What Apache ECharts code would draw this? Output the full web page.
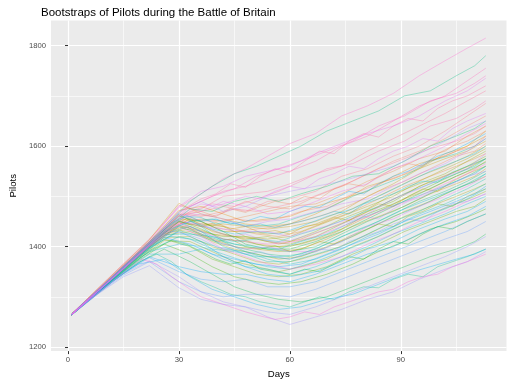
<!DOCTYPE html>
<html><head><meta charset="utf-8">
<script src="https://cdn.jsdelivr.net/npm/echarts@6/dist/echarts.min.js"></script>
<style>html,body{margin:0;padding:0;background:#fff}#c{width:512px;height:384px}</style>
</head><body><div id="c"></div>
<script>
const days  = [1, 8, 15, 22, 30, 36, 42, 48, 54, 60, 67, 74, 81, 88, 95, 102, 108, 113];
const days2 = [1, 5, 12, 19, 26, 33, 39, 45, 51, 57, 63, 70, 77, 84, 91, 98, 105, 110, 113];
const days3 = [1, 4, 8, 12, 16, 20, 24, 28, 32, 36, 40, 44, 48, 52, 56, 60, 64, 68, 72, 76, 80, 84, 88, 92, 96, 100, 104, 108, 113];
const xTicks = [0, 30, 60, 90];
const xMinor = [15, 45, 75, 105];
const yTicks = [1200, 1400, 1600, 1800];
const yMinor = [1300, 1500, 1700];

const b01 = [1266,1316,1366,1415,1478,1505,1535,1555,1580,1605,1625,1660,1680,1705,1740,1770,1795,1815];
const b02 = [1266,1314,1362,1410,1470,1490,1510,1520,1535,1550,1570,1600,1620,1650,1680,1700,1730,1755];
const b03 = [1265,1312,1360,1407,1462,1475,1500,1505,1510,1525,1545,1560,1590,1615,1640,1665,1690,1710];
const b04 = [1266,1315,1364,1413,1482,1470,1480,1470,1490,1495,1510,1540,1555,1580,1600,1630,1660,1685];
const b05 = [1265,1313,1361,1408,1465,1460,1470,1490,1480,1475,1500,1520,1545,1570,1590,1615,1640,1660];
const b06 = [1264,1309,1354,1400,1445,1455,1450,1460,1470,1480,1485,1505,1530,1550,1575,1590,1620,1640];
const b07 = [1265,1313,1362,1410,1472,1480,1465,1450,1455,1460,1480,1495,1510,1540,1565,1580,1600,1630];
const b08 = [1266,1316,1365,1414,1486,1465,1455,1445,1440,1445,1465,1490,1520,1535,1555,1585,1600,1620];
const b09 = [1265,1310,1357,1402,1450,1440,1445,1440,1435,1440,1450,1470,1500,1525,1555,1575,1590,1610];
const b10 = [1264,1311,1356,1403,1455,1450,1430,1430,1425,1430,1445,1465,1490,1515,1540,1560,1580,1600];
const b11 = [1265,1312,1359,1407,1462,1445,1440,1420,1415,1420,1440,1460,1480,1500,1530,1555,1575,1595];
const b12 = [1266,1312,1358,1404,1450,1440,1425,1415,1420,1410,1430,1455,1475,1505,1525,1545,1570,1590];
const b13 = [1265,1310,1355,1400,1442,1430,1420,1420,1410,1405,1420,1445,1470,1490,1520,1540,1560,1580];
const b14 = [1264,1311,1357,1403,1452,1435,1415,1410,1400,1400,1415,1435,1465,1485,1510,1535,1555,1575];
const b15 = [1265,1313,1360,1406,1460,1450,1430,1405,1395,1395,1410,1430,1455,1480,1505,1530,1550,1568];
const b16 = [1266,1310,1354,1398,1440,1425,1410,1400,1395,1390,1400,1425,1450,1470,1495,1520,1540,1560];
const b17 = [1265,1309,1352,1396,1432,1420,1405,1395,1385,1380,1395,1420,1440,1465,1490,1510,1530,1550];
const b18 = [1264,1308,1350,1392,1420,1410,1395,1390,1380,1375,1390,1410,1435,1460,1480,1505,1525,1545];
const b19 = [1265,1311,1357,1403,1450,1430,1400,1385,1370,1370,1385,1400,1425,1450,1470,1495,1515,1535];
const b20 = [1266,1313,1360,1408,1465,1440,1410,1390,1375,1365,1375,1395,1420,1440,1465,1485,1505,1525];
const b21 = [1265,1309,1351,1390,1405,1400,1385,1370,1360,1355,1370,1390,1410,1435,1455,1475,1495,1515];
const b22 = [1264,1308,1349,1385,1385,1395,1375,1360,1355,1345,1360,1380,1400,1425,1445,1465,1485,1500];
const b23 = [1265,1310,1355,1398,1430,1410,1380,1360,1345,1340,1350,1370,1395,1410,1435,1455,1470,1490];
const b24 = [1265,1308,1348,1380,1360,1350,1345,1345,1335,1330,1345,1365,1385,1400,1425,1445,1460,1480];
const b25 = [1264,1307,1347,1378,1350,1335,1330,1335,1320,1320,1330,1350,1370,1390,1410,1430,1450,1465];
const b26 = [1265,1306,1343,1370,1330,1310,1300,1305,1305,1300,1315,1335,1355,1375,1395,1415,1430,1450];
const b27 = [1264,1305,1340,1362,1318,1295,1285,1280,1270,1265,1280,1300,1320,1340,1360,1380,1400,1420];
const b28 = [1265,1307,1346,1372,1340,1310,1290,1280,1260,1245,1260,1275,1295,1310,1335,1355,1370,1390];
const b29 = [1266,1313,1359,1406,1468,1490,1470,1480,1500,1510,1520,1530,1545,1560,1585,1610,1635,1650];
const b30 = [1265,1311,1357,1404,1455,1465,1455,1440,1450,1455,1470,1485,1495,1520,1545,1565,1590,1615];
const b31 = [1265,1311,1357,1403,1452,1440,1435,1430,1430,1420,1435,1450,1465,1495,1515,1540,1555,1585];
const b32 = [1265,1310,1356,1402,1445,1425,1405,1395,1400,1390,1390,1410,1440,1455,1480,1500,1520,1540];
const b33 = [1265,1314,1362,1410,1480,1510,1520,1540,1550,1560,1585,1605,1625,1640,1660,1690,1710,1735];
const b34 = [1265,1311,1357,1404,1460,1470,1490,1480,1465,1470,1490,1510,1525,1555,1575,1600,1625,1645];
const b35 = [1264,1310,1355,1400,1440,1420,1395,1380,1365,1355,1365,1380,1405,1425,1450,1470,1490,1505];
const b36 = [1265,1311,1356,1402,1448,1430,1415,1410,1405,1408,1420,1440,1460,1480,1500,1525,1545,1565];

const c01 = [1265,1292,1340,1388,1436,1480,1500,1515,1540,1555,1570,1590,1610,1640,1660,1690,1705,1725,1740];
const c02 = [1266,1292,1339,1386,1433,1470,1485,1480,1495,1510,1530,1555,1565,1590,1610,1640,1655,1675,1690];
const c03 = [1265,1291,1337,1384,1430,1465,1460,1475,1470,1480,1490,1510,1530,1555,1575,1595,1610,1625,1640];
const c04 = [1264,1290,1336,1382,1427,1455,1450,1455,1450,1455,1470,1480,1505,1525,1545,1570,1590,1600,1620];
const c05 = [1265,1291,1338,1384,1430,1460,1440,1430,1435,1440,1450,1465,1485,1510,1530,1555,1580,1590,1605];
const c06 = [1265,1291,1337,1383,1428,1445,1445,1435,1425,1420,1430,1450,1470,1495,1520,1540,1560,1575,1585];
const c07 = [1266,1292,1338,1384,1429,1455,1430,1420,1415,1405,1415,1435,1455,1480,1505,1530,1550,1565,1575];
const c08 = [1265,1290,1336,1381,1425,1440,1425,1420,1405,1400,1405,1420,1445,1470,1495,1515,1540,1555,1570];
const c09 = [1264,1290,1335,1380,1423,1430,1415,1400,1395,1390,1395,1415,1440,1460,1480,1505,1525,1540,1555];
const c10 = [1265,1291,1337,1382,1426,1435,1410,1395,1385,1375,1380,1400,1420,1445,1470,1490,1515,1530,1540];
const c11 = [1265,1290,1335,1378,1418,1420,1400,1385,1370,1365,1375,1390,1410,1435,1460,1480,1500,1515,1525];
const c12 = [1264,1289,1333,1375,1412,1410,1390,1370,1360,1350,1360,1375,1400,1420,1445,1465,1485,1500,1510];
const c13 = [1265,1290,1334,1377,1415,1400,1375,1360,1345,1340,1345,1360,1385,1405,1430,1450,1470,1480,1495];
const c14 = [1265,1289,1332,1372,1405,1385,1360,1340,1330,1325,1330,1345,1365,1390,1410,1435,1450,1465,1475];
const c15 = [1264,1288,1330,1368,1395,1370,1345,1320,1305,1295,1290,1300,1320,1340,1360,1380,1395,1410,1425];
const c16 = [1265,1292,1339,1385,1433,1475,1470,1490,1500,1490,1505,1520,1540,1545,1570,1600,1620,1635,1650];
const c17 = [1266,1293,1341,1389,1438,1490,1520,1545,1560,1580,1600,1630,1650,1670,1700,1710,1740,1760,1780];
const c18 = [1265,1291,1337,1383,1428,1450,1455,1445,1440,1445,1460,1475,1500,1520,1540,1570,1585,1600,1615];
const c19 = [1265,1290,1336,1381,1424,1425,1420,1410,1415,1410,1425,1440,1460,1480,1505,1525,1545,1560,1575];
const c20 = [1264,1290,1335,1380,1422,1415,1395,1390,1380,1380,1385,1405,1430,1450,1475,1495,1515,1530,1545];
const c21 = [1265,1291,1336,1382,1426,1440,1420,1405,1400,1395,1410,1425,1450,1470,1490,1510,1530,1545,1560];
const c22 = [1265,1291,1338,1384,1430,1450,1435,1425,1430,1425,1440,1460,1475,1500,1525,1550,1570,1585,1600];
const c23 = [1265,1289,1331,1365,1375,1340,1315,1300,1285,1275,1280,1295,1305,1325,1345,1360,1375,1385,1395];
const c24 = [1264,1290,1334,1378,1418,1405,1385,1375,1365,1360,1365,1385,1405,1425,1450,1470,1490,1505,1520];

const d01 = [1266,1287,1314,1341,1368,1396,1423,1452,1478,1495,1505,1525,1518,1540,1555,1548,1570,1590,1585,1610,1625,1618,1640,1655,1650,1675,1690,1700,1720];
const d02 = [1265,1286,1312,1339,1365,1392,1418,1445,1465,1470,1460,1475,1468,1480,1490,1485,1500,1495,1515,1525,1520,1540,1555,1565,1560,1585,1600,1610,1630];
const d03 = [1265,1285,1311,1337,1363,1390,1415,1442,1455,1440,1448,1435,1440,1428,1432,1425,1440,1445,1458,1452,1470,1485,1480,1500,1515,1510,1530,1545,1560];
const d04 = [1264,1284,1309,1335,1360,1386,1410,1432,1440,1425,1410,1415,1400,1395,1402,1390,1398,1410,1405,1420,1432,1445,1440,1460,1470,1485,1480,1500,1515];
const d05 = [1265,1285,1308,1333,1357,1380,1398,1412,1405,1390,1375,1365,1372,1355,1350,1345,1355,1350,1365,1380,1375,1395,1410,1405,1425,1440,1435,1450,1465];
const d06 = [1264,1283,1306,1330,1352,1372,1385,1370,1345,1330,1318,1305,1300,1290,1285,1280,1290,1300,1295,1310,1320,1318,1335,1345,1340,1360,1370,1380,1395];
const d07 = [1265,1286,1312,1338,1364,1391,1417,1444,1460,1458,1445,1450,1440,1445,1438,1445,1452,1460,1470,1465,1485,1495,1505,1520,1530,1528,1548,1560,1575];
const d08 = [1266,1286,1312,1339,1366,1393,1420,1447,1462,1450,1455,1445,1450,1460,1455,1470,1480,1478,1495,1510,1505,1525,1540,1550,1565,1580,1590,1605,1625];
const d09 = [1265,1285,1310,1336,1362,1388,1412,1430,1425,1415,1400,1395,1385,1390,1380,1375,1385,1395,1392,1410,1420,1430,1445,1455,1450,1470,1485,1490,1505];
const d10 = [1265,1285,1311,1337,1364,1390,1416,1440,1448,1445,1430,1420,1425,1415,1408,1412,1420,1430,1440,1450,1460,1455,1475,1490,1500,1515,1525,1540,1550];
const d11 = [1266,1287,1313,1340,1367,1394,1421,1450,1470,1485,1480,1490,1500,1495,1510,1520,1515,1535,1545,1560,1555,1575,1590,1600,1615,1610,1635,1650,1665];
const d12 = [1265,1284,1307,1331,1354,1375,1365,1340,1320,1300,1290,1280,1270,1262,1255,1260,1270,1265,1280,1290,1300,1310,1315,1330,1340,1345,1360,1370,1385];

const groupB = [b01,b02,b03,b04,b05,b06,b07,b08,b09,b10,b11,b12,b13,b14,b15,b16,b17,b18,
                b19,b20,b21,b22,b23,b24,b25,b26,b27,b28,b29,b30,b31,b32,b33,b34,b35,b36];
const groupC = [c01,c02,c03,c04,c05,c06,c07,c08,c09,c10,c11,c12,
                c13,c14,c15,c16,c17,c18,c19,c20,c21,c22,c23,c24];
const groupD = [d01,d02,d03,d04,d05,d06,d07,d08,d09,d10,d11,d12];

// ggplot2-like hue palette (style only)
function hcl(h, c, l) {
  const hr = h * Math.PI / 180;
  const U = c * Math.cos(hr), V = c * Math.sin(hr);
  const Y = l > 8 ? Math.pow((l + 16) / 116, 3) : l / 903.3;
  const Xn = 0.95047, Yn = 1, Zn = 1.08883;
  const den = Xn + 15 * Yn + 3 * Zn;
  const un = 4 * Xn / den, vn = 9 * Yn / den;
  const u = U / (13 * l) + un, v = V / (13 * l) + vn;
  const X = 9 * Y * u / (4 * v);
  const Z = (12 - 3 * u - 20 * v) * Y / (4 * v);
  const lin = [3.2404542 * X - 1.5371385 * Y - 0.4985314 * Z,
               -0.9692660 * X + 1.8760108 * Y + 0.0415560 * Z,
               0.0556434 * X - 0.2040259 * Y + 1.0572252 * Z];
  return '#' + lin.map(x => {
    let g = x <= 0.0031308 ? 12.92 * x : 1.055 * Math.pow(x, 1 / 2.4) - 0.055;
    g = Math.round(Math.max(0, Math.min(1, g)) * 255);
    return g.toString(16).padStart(2, '0');
  }).join('');
}

// interleave the groups so colours mix through the cloud
const lines = [];
for (let i = 0; i < groupB.length; i++) {
  lines.push({ x: days, y: groupB[i] });
  if (i < groupC.length) lines.push({ x: days2, y: groupC[i] });
  if (i % 3 === 1 && groupD[(i - 1) / 3]) lines.push({ x: days3, y: groupD[(i - 1) / 3] });
}

const FONT = '"Liberation Sans", Arial, sans-serif';
const n = lines.length;
const series = lines.map((ln, i) => {
  const col = hcl((330 + 360 * i / n) % 360, 100, 65);
  return {
    type: 'line',
    xAxisIndex: 0, yAxisIndex: 0,
    data: ln.x.map((d, k) => [d, ln.y[k]]),
    showSymbol: false,
    silent: true,
    lineStyle: { width: 1, opacity: 0.34, color: col },
    itemStyle: { color: col }
  };
});

const chart = echarts.init(document.getElementById('c'), null, { renderer: 'canvas' });
chart.setOption({
  animation: false,
  backgroundColor: '#ffffff',
  title: {
    text: 'Bootstraps of Pilots during the Battle of Britain',
    left: 36, top: 2,
    textStyle: { fontFamily: FONT, fontSize: 11.5, fontWeight: 'normal', color: '#000' }
  },
  grid: {
    left: 38.3, right: 5.5, top: 20.5, bottom: 29,
    show: true, backgroundColor: '#EBEBEB', borderWidth: 0
  },
  xAxis: [
    {
      type: 'value', min: -4.6, max: 118.6,
      name: 'Days', nameLocation: 'middle', nameGap: 13,
      nameTextStyle: { fontFamily: FONT, fontSize: 9.6, color: '#000' },
      axisLine: { show: false },
      axisTick: { show: true, length: 3, customValues: xTicks, lineStyle: { color: '#333333', width: 1 } },
      axisLabel: { customValues: xTicks, margin: 5, fontFamily: FONT, fontSize: 7.7, color: '#4D4D4D', formatter: v => String(v) },
      splitLine: { show: true, lineStyle: { color: '#ffffff', width: 1.2 } }
    },
    {
      type: 'value', min: -4.6, max: 118.6, position: 'bottom',
      axisLine: { show: false },
      axisTick: { show: false, customValues: xMinor },
      axisLabel: { show: false, customValues: xMinor },
      splitLine: { show: true, lineStyle: { color: '#ffffff', width: 0.6 } }
    }
  ],
  yAxis: [
    {
      type: 'value', min: 1192, max: 1850,
      name: 'Pilots', nameLocation: 'middle', nameGap: 27, nameRotate: 90,
      nameTextStyle: { fontFamily: FONT, fontSize: 9.6, color: '#000' },
      axisLine: { show: false },
      axisTick: { show: true, length: 3, customValues: yTicks, lineStyle: { color: '#333333', width: 1 } },
      axisLabel: { customValues: yTicks, margin: 5, fontFamily: FONT, fontSize: 7.7, color: '#4D4D4D', formatter: v => String(v) },
      splitLine: { show: true, lineStyle: { color: '#ffffff', width: 1.2 } }
    },
    {
      type: 'value', min: 1192, max: 1850, position: 'left',
      axisLine: { show: false },
      axisTick: { show: false, customValues: yMinor },
      axisLabel: { show: false, customValues: yMinor },
      splitLine: { show: true, lineStyle: { color: '#ffffff', width: 0.6 } }
    }
  ],
  series: series
});
</script>
</body></html>
